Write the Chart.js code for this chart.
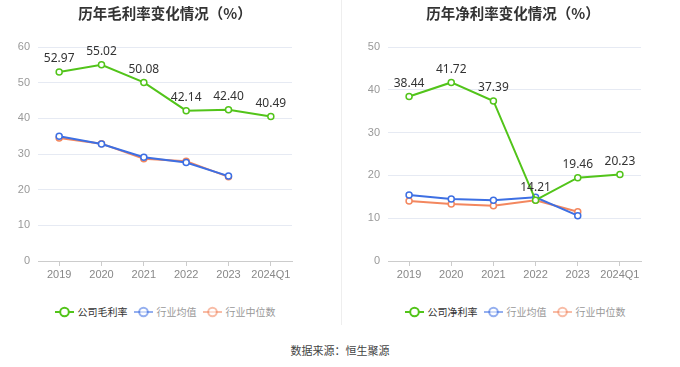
<!DOCTYPE html>
<html>
<head>
<meta charset="utf-8">
<script src="https://cdn.jsdelivr.net/npm/chart.js@4.4.1/dist/chart.umd.min.js"></script>
<style>
  body { margin: 0; background: #fff; font-family: "Noto Sans CJK SC", "Noto Sans", sans-serif; }
  #wrap { position: relative; width: 680px; height: 367px; overflow: hidden; }
  .box { position: absolute; top: 0; width: 340px; height: 290px; }
  .title { position: absolute; top: 2px; width: 340px; text-align: center; font-size: 14.5px; font-weight: bold; color: #333; }
  .legend { position: absolute; top: 304px; width: 340px; text-align: center; font-size: 10px; color: #333; white-space: nowrap; }
  .legend span.item { display: inline-flex; align-items: center; margin: 0 3px; }
  .legend svg { margin-right: 4px; }
  .divider { position: absolute; left: 341px; top: 0; width: 1px; height: 325px; background: #eee; }
  .source { position: absolute; top: 342px; width: 680px; text-align: center; font-size: 11px; color: #444; }
</style>
</head>
<body>
<div id="wrap">
  <div class="box" style="left:0"><canvas id="grossChart"></canvas></div>
  <div class="box" style="left:340px"><canvas id="netChart"></canvas></div>
  <div class="title" style="left:-5px">历年毛利率变化情况（%）</div>
  <div class="title" style="left:343px">历年净利率变化情况（%）</div>
  <div class="divider"></div>
  <div class="legend" id="legend1" style="left:-5px"></div>
  <div class="legend" id="legend2" style="left:345px"></div>
  <div class="source">数据来源：恒生聚源</div>
</div>
<script>
let years = ['2019', '2020', '2021', '2022', '2023', '2024Q1'];
let gross_company = [52.97, 55.02, 50.08, 42.14, 42.40, 40.49];
let gross_avg = [35.0, 32.8, 29.1, 27.6, 23.8, null];
let gross_median = [34.5, 32.9, 28.7, 28.0, 23.6, null];
let net_company = [38.44, 41.72, 37.39, 14.21, 19.46, 20.23];
let net_avg = [15.4, 14.5, 14.2, 14.9, 10.6, null];
let net_median = [14.0, 13.3, 12.9, 14.2, 11.5, null];
let gross_ticks = [0, 10, 20, 30, 40, 50, 60];
let net_ticks = [0, 10, 20, 30, 40, 50];

const GREEN = '#52c41a';
const BLUE = '#3d6fe3';
const ORANGE = '#f3875f';

// labels above the company series only
const valueLabels = {
    id: 'valueLabels',
    afterDatasetsDraw(chart) {
        const ctx = chart.ctx;
        const meta = chart.getDatasetMeta(0);
        const data = chart.data.datasets[0].data;
        ctx.save();
        ctx.font = '12px "Noto Sans", "DejaVu Sans", sans-serif';
        ctx.fillStyle = '#333';
        ctx.textAlign = 'center';
        ctx.textBaseline = 'middle';
        meta.data.forEach(function (pt, i) {
            ctx.fillText(data[i].toFixed(2), pt.x, pt.y - 13);
        });
        ctx.restore();
    }
};

function makeSeries(label, data, color) {
    return {
        label: label,
        data: data,
        borderColor: color,
        backgroundColor: '#fff',
        pointBackgroundColor: '#fff',
        pointBorderColor: color,
        pointBorderWidth: 1.5,
        pointRadius: 3,
        borderWidth: 2,
        tension: 0,
        spanGaps: false
    };
}

function draw_chart(id, company, companyName, avg, median, maxY, padL, padR) {
    var ctx = document.getElementById(id);
    return new Chart(ctx, {
        type: 'line',
        data: {
            labels: years,
            datasets: [
                makeSeries(companyName, company, GREEN),
                makeSeries('行业均值', avg, BLUE),
                makeSeries('行业中位数', median, ORANGE)
            ]
        },
        options: {
            responsive: true,
            maintainAspectRatio: false,
            animation: false,
            layout: { padding: { top: 47, right: padR, bottom: 9, left: padL } },
            plugins: { legend: { display: false }, tooltip: { enabled: false } },
            scales: {
                x: {
                    offset: true,
                    grid: { display: true, drawOnChartArea: false, drawTicks: true, tickLength: 5, color: '#ccc', offset: false },
                    border: { color: '#ccc' },
                    ticks: { color: '#888', font: { size: 11 }, padding: 2, maxRotation: 0 },
                    afterFit(scale) { scale.height = 20; }
                },
                y: {
                    min: 0,
                    max: maxY,
                    ticks: { stepSize: 10, color: '#999', font: { size: 11 }, padding: 8 },
                    grid: { color: '#e6eaf3', drawTicks: false },
                    border: { display: false },
                    afterFit(scale) { scale.width = 38; }
                }
            }
        },
        plugins: [valueLabels]
    });
}

function legendIcon(color, faded) {
    let op = faded ? 0.55 : 1;
    return `<svg width="19" height="12"><line x1="0" y1="6" x2="19" y2="6" stroke="${color}" stroke-width="2" opacity="${op}"/><circle cx="9.5" cy="6" r="4.3" fill="#fff" stroke="${color}" stroke-width="2" opacity="${op}"/></svg>`;
}

function build_legend(id, companyName) {
    let html = `<span class="item">${legendIcon(GREEN, false)}<span style="color:#333">${companyName}</span></span>` +
        `<span class="item">${legendIcon(BLUE, true)}<span style="color:#999">行业均值</span></span>` +
        `<span class="item">${legendIcon(ORANGE, true)}<span style="color:#999">行业中位数</span></span>`;
    document.getElementById(id).innerHTML = html;
}

draw_chart('grossChart', gross_company, '公司毛利率', gross_avg, gross_median, gross_ticks[gross_ticks.length - 1], 0, 48);
draw_chart('netChart', net_company, '公司净利率', net_avg, net_median, net_ticks[net_ticks.length - 1], 10, 39);
build_legend('legend1', '公司毛利率');
build_legend('legend2', '公司净利率');
</script>
</body>
</html>
